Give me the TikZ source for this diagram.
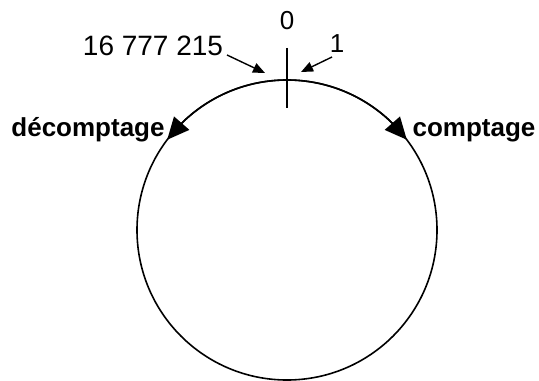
\documentclass[tikz,border=0pt]{standalone}
\usepackage{fontspec}
\setmainfont{Liberation Sans}
\usetikzlibrary{arrows.meta,positioning,bending}
\tikzset{
  lbl/.style={inner sep=0pt, font=\fontsize{13}{15.6}\selectfont},
  boldlbl/.style={lbl, font=\fontsize{13}{15.6}\selectfont\bfseries},
  ring/.style={circle, draw, line width=0.8pt, inner sep=0pt, outer sep=0pt, minimum size=150pt},
  ringflow/.style={-{Triangle[length=11pt, width=10pt, flex]}, line width=0.8pt},
  ptr/.style={-{Triangle[length=6pt, width=5pt]}, line width=0.7pt},
  tick/.style={line width=1.2pt}
}
\begin{document}
\begin{tikzpicture}[x=0.5pt, y=0.5pt]
    \useasboundingbox (0,0) rectangle (539,380);
    \node[ring] (cnt) at (287,150) {};
    \coordinate (tktop) at (287,332);
    \coordinate (tkbot) at (287,272);
    \node[lbl] (zero) at (287,359) {0};
    \node[lbl] (one) at (337,336) {1};
    \node[lbl, font=\fontsize{14}{16.8}\selectfont] (maxv) at (153,334) {16 777 215};
    \node[boldlbl, anchor=base] (down) at (88,243) {décomptage};
    \node[boldlbl, anchor=base] (up) at (474,243) {comptage};
    \coordinate (onest) at (332,323);
    \coordinate (onetip) at (301,308);
    \coordinate (maxst) at (227,325);
    \coordinate (maxtip) at (265,307);
    \draw[tick] (tktop) -- (tkbot);
    \draw[ptr] (onest) -- (onetip);
    \draw[ptr] (maxst) -- (maxtip);
    \draw[ringflow] (cnt.90) arc[start angle=90, end angle=143, radius=150];
    \draw[ringflow] (cnt.90) arc[start angle=90, end angle=37, radius=150];
\end{tikzpicture}
\end{document}
